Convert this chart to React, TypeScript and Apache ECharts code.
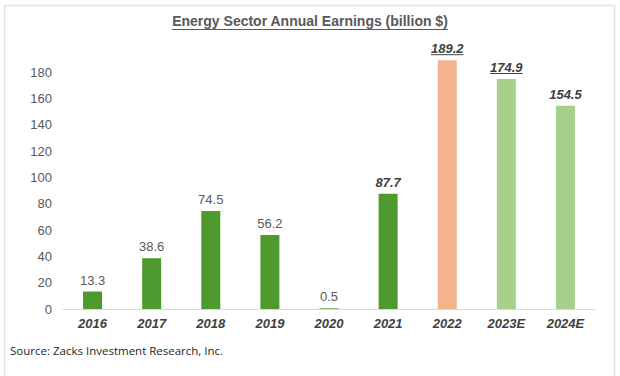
import React, { useEffect, useRef } from "react";
import * as echarts from "echarts";

const categories = ["2016", "2017", "2018", "2019", "2020", "2021", "2022", "2023E", "2024E"];
const earnings = [13.3, 38.6, 74.5, 56.2, 0.5, 87.7, 189.2, 174.9, 154.5];
const barColors = ["#4E9A2E", "#4E9A2E", "#4E9A2E", "#4E9A2E", "#4E9A2E", "#4E9A2E", "#F2B38E", "#A8D08D", "#A8D08D"];
const boldLabel = [false, false, false, false, false, true, true, true, true];
const underlinedLabel = [false, false, false, false, false, false, true, true, false];
const yTicks = [0, 20, 40, 60, 80, 100, 120, 140, 160, 180, 200];

const FONT = "'Liberation Sans', Arial, sans-serif";

export default function App() {
  const ref = useRef<HTMLDivElement>(null);
  useEffect(() => {
    if (!ref.current) return;
    const chart = echarts.init(ref.current, null, { renderer: "svg" });
    const option: any = {
      animation: false,
      backgroundColor: "#ffffff",
      grid: { left: 63, right: 25, top: 46, bottom: 67 },
      xAxis: {
        type: "category",
        data: categories,
        axisLine: { show: true, lineStyle: { color: "#D9D9D9", width: 1 } },
        axisTick: { show: false },
        axisLabel: {
          color: "#404040",
          fontFamily: FONT,
          fontSize: 13,
          fontWeight: "bold",
          fontStyle: "italic",
          margin: 8,
        },
      },
      yAxis: {
        type: "value",
        min: yTicks[0],
        max: yTicks[yTicks.length - 1],
        interval: 20,
        splitLine: { show: false },
        axisLine: { show: false },
        axisTick: { show: false },
        axisLabel: {
          color: "#595959",
          fontFamily: FONT,
          fontSize: 13,
          margin: 11,
          showMaxLabel: false,
        },
      },
      series: [
        {
          type: "bar",
          barWidth: 19,
          data: earnings.map((v, i) => ({
            value: v,
            itemStyle: { color: barColors[i] },
            label: {
              show: true,
              position: "top",
              distance: 5,
              fontFamily: FONT,
              fontSize: 13,
              color: boldLabel[i] ? "#404040" : "#595959",
              fontWeight: boldLabel[i] ? "bold" : "normal",
              fontStyle: boldLabel[i] ? "italic" : "normal",
            },
          })),
        },
      ],
      graphic: [
        {
          type: "rect",
          shape: { x: 4.5, y: 5.5, width: 610, height: 380 },
          style: { fill: "none", stroke: "#E3E3E3", lineWidth: 1.5 },
          silent: true,
        },
        {
          type: "text",
          x: 310,
          y: 21,
          style: {
            text: "Energy Sector Annual Earnings (billion $)",
            fill: "#595959",
            font: "bold 14px " + FONT,
            align: "center",
            verticalAlign: "middle",
          },
        },
        {
          type: "text",
          x: 10,
          y: 350,
          style: {
            text: "Source: Zacks Investment Research, Inc.",
            fill: "#262626",
            font: "11.5px 'Open Sans', 'Liberation Sans', sans-serif",
            align: "left",
            verticalAlign: "middle",
          },
        },
      ],
    };
    chart.setOption(option);

    const fmt: any = echarts.format;
    const titleW = fmt.getTextRect
      ? fmt.getTextRect("Energy Sector Annual Earnings (billion $)", "bold 14px " + FONT).width
      : 282;
    const lines: any[] = [
      {
        type: "line",
        shape: { x1: 310 - titleW / 2, y1: 29.5, x2: 310 + titleW / 2, y2: 29.5 },
        style: { stroke: "#595959", lineWidth: 1 },
      },
    ];
    earnings.forEach((v, i) => {
      if (!underlinedLabel[i]) return;
      const p = chart.convertToPixel({ gridIndex: 0 }, [i, v]) as number[];
      const txt = String(v);
      const w = fmt.getTextRect ? fmt.getTextRect(txt, "italic bold 13px " + FONT).width : 34;
      lines.push({
        type: "line",
        shape: { x1: p[0] - w / 2, y1: p[1] - 5.5, x2: p[0] + w / 2, y2: p[1] - 5.5 },
        style: { stroke: "#404040", lineWidth: 1 },
      });
    });
    chart.setOption({ graphic: [...option.graphic, ...lines] });

    return () => chart.dispose();
  }, []);
  return (
    <div
      ref={ref}
      style={{ position: "fixed", left: 0, top: 0, width: 620, height: 376 }}
    />
  );
}
